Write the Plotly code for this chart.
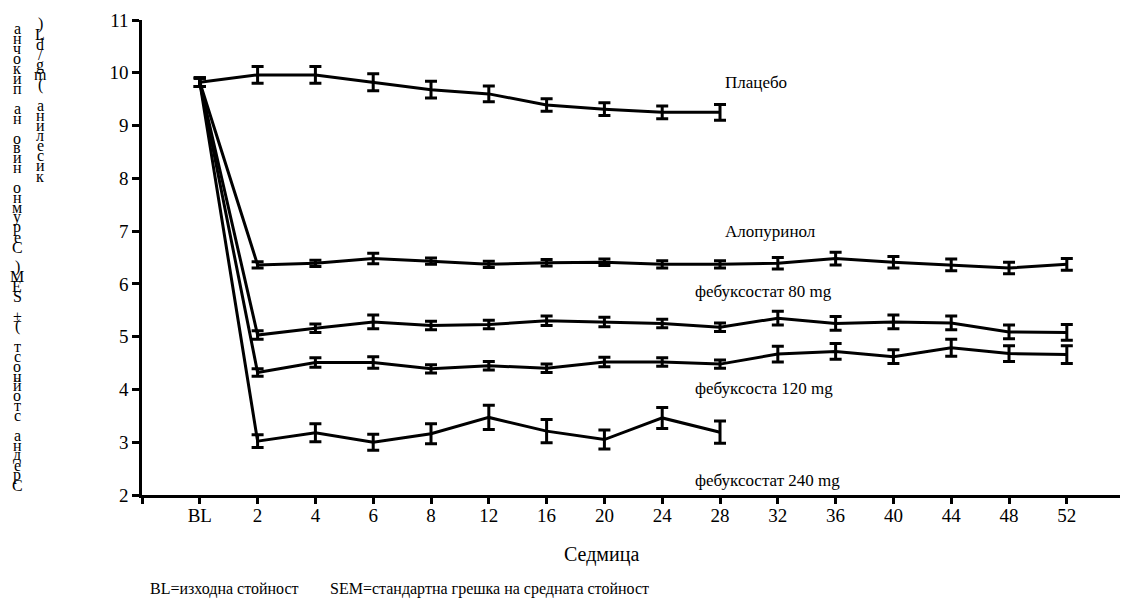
import plotly.graph_objects as go

# ---- data ----
week_labels = ["BL", "2", "4", "6", "8", "12", "16", "20", "24", "28",
               "32", "36", "40", "44", "48", "52"]

placebo = [9.82, 9.96, 9.96, 9.82, 9.68, 9.60, 9.39, 9.31, 9.25, 9.25]
placebo_sem = [0.08, 0.16, 0.16, 0.16, 0.16, 0.15, 0.12, 0.12, 0.12, 0.15]

allopurinol = [9.82, 6.36, 6.39, 6.48, 6.43, 6.37, 6.40, 6.41, 6.37, 6.37,
               6.39, 6.48, 6.41, 6.36, 6.30, 6.37]
allopurinol_sem = [0.08, 0.06, 0.06, 0.10, 0.06, 0.06, 0.06, 0.06, 0.07, 0.07,
                   0.11, 0.12, 0.11, 0.11, 0.11, 0.11]

feb80 = [9.82, 5.03, 5.16, 5.28, 5.21, 5.23, 5.30, 5.28, 5.25, 5.18,
         5.35, 5.25, 5.28, 5.26, 5.09, 5.08]
feb80_sem = [0.08, 0.08, 0.08, 0.13, 0.08, 0.08, 0.09, 0.09, 0.08, 0.08,
             0.13, 0.13, 0.13, 0.13, 0.13, 0.15]

feb120 = [9.82, 4.32, 4.51, 4.51, 4.39, 4.45, 4.40, 4.52, 4.52, 4.48,
          4.67, 4.72, 4.62, 4.79, 4.68, 4.66]
feb120_sem = [0.08, 0.07, 0.09, 0.11, 0.08, 0.08, 0.08, 0.09, 0.08, 0.08,
              0.15, 0.15, 0.13, 0.16, 0.15, 0.17]

feb240 = [9.82, 3.02, 3.18, 3.00, 3.16, 3.47, 3.21, 3.05, 3.46, 3.19]
feb240_sem = [0.08, 0.12, 0.17, 0.15, 0.19, 0.23, 0.22, 0.18, 0.20, 0.21]

series_labels = ["Плацебо", "Алопуринол", "фебуксостат 80 mg",
                 "фебуксоста 120 mg", "фебуксостат 240 mg"]
label_pos_x = [10.05, 10.05, 9.53, 9.53, 9.53]
label_pos_y = [9.82, 6.99, 5.86, 4.02, 2.28]

ytitle_col1 = "Средна стойност (± SEM) Серумно ниво на пикочна"
ytitle_col2 = "киселина (mg/dL)"
xtitle = "Седмица"
footnote_a = "BL=изходна стойност"
footnote_b = "SEM=стандартна грешка на средната стойност"

FONT = "Times New Roman, Liberation Serif, serif"

fig = go.Figure()
for vals, sems in [(placebo, placebo_sem), (allopurinol, allopurinol_sem),
                   (feb80, feb80_sem), (feb120, feb120_sem), (feb240, feb240_sem)]:
    xs = list(range(1, len(vals) + 1))
    fig.add_trace(go.Scatter(
        x=xs, y=vals, mode="lines",
        line=dict(color="black", width=3),
        error_y=dict(type="data", array=sems, visible=True,
                     color="black", thickness=3, width=6),
        showlegend=False, hoverinfo="skip"))

annotations = []
for t, lx, ly in zip(series_labels, label_pos_x, label_pos_y):
    annotations.append(dict(x=lx, y=ly, xref="x", yref="y", text=t,
                            showarrow=False, xanchor="left", yanchor="middle",
                            font=dict(family=FONT, size=17, color="black")))

# stacked vertical y-axis title (characters upright, reading bottom to top)
W, H = 1130, 601
ML, MR, MT, MB = 142, 10, 17, 106
pw, ph = W - ML - MR, H - MT - MB

def px_to_paper(px, py):
    return (px - ML) / pw, (H - MB - py) / ph

for col_text, cx, top, step in [(ytitle_col1, 17, 26, 9.98),
                                (ytitle_col2, 40, 21, 10.2)]:
    chars = list(col_text)[::-1]
    for i, ch in enumerate(chars):
        if ch == " ":
            continue
        xp, yp = px_to_paper(cx, top + i * step)
        annotations.append(dict(x=xp, y=yp, xref="paper", yref="paper",
                                text=ch, showarrow=False, xanchor="center",
                                yanchor="middle",
                                font=dict(family=FONT, size=16, color="black")))

xp, yp = px_to_paper(601, 555)
annotations.append(dict(x=xp, y=yp, xref="paper", yref="paper", text=xtitle,
                        showarrow=False, xanchor="center", yanchor="middle",
                        font=dict(family=FONT, size=20, color="black")))
xp, yp = px_to_paper(148, 590)
annotations.append(dict(x=xp, y=yp, xref="paper", yref="paper", text=footnote_a,
                        showarrow=False, xanchor="left", yanchor="middle",
                        font=dict(family=FONT, size=16, color="black")))
xp, yp = px_to_paper(328, 590)
annotations.append(dict(x=xp, y=yp, xref="paper", yref="paper", text=footnote_b,
                        showarrow=False, xanchor="left", yanchor="middle",
                        font=dict(family=FONT, size=16, color="black")))

fig.update_layout(
    width=W, height=H,
    margin=dict(l=ML, r=MR, t=MT, b=MB, pad=0),
    plot_bgcolor="white", paper_bgcolor="white",
    font=dict(family=FONT, color="black"),
    annotations=annotations,
    xaxis=dict(range=[0, 16.92], tickmode="array",
               tickvals=list(range(0, 17)), ticktext=[""] + week_labels,
               showgrid=False, zeroline=False,
               showline=True, linecolor="black", linewidth=2.5,
               ticks="outside", ticklen=6, tickwidth=2.5, tickcolor="black",
               ticklabelstandoff=-5,
               tickfont=dict(family=FONT, size=19, color="black")),
    yaxis=dict(range=[2, 11], tickmode="array", tickvals=list(range(2, 12)),
               showgrid=False, zeroline=False,
               showline=True, linecolor="black", linewidth=2.5,
               ticks="outside", ticklen=7, tickwidth=2.5, tickcolor="black",
               tickfont=dict(family=FONT, size=19, color="black")),
)

fig.write_html("out.html",
               config={"displayModeBar": False},
               post_script="document.body.style.margin='0px';"
                           "document.body.style.overflow='hidden';")
